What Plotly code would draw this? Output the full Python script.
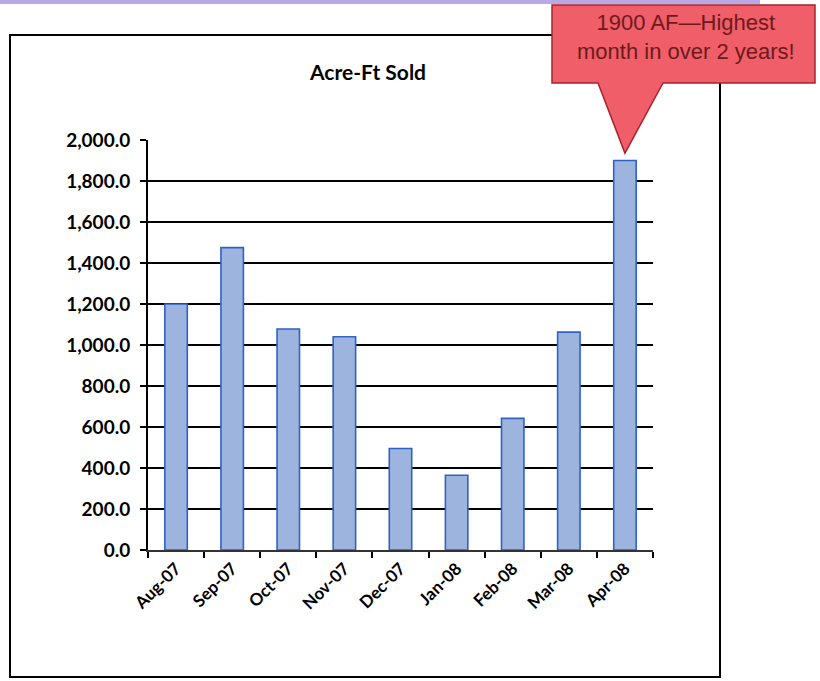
import plotly.graph_objects as go

# Monthly acre-feet sold
months = ["Aug-07", "Sep-07", "Oct-07", "Nov-07", "Dec-07",
          "Jan-08", "Feb-08", "Mar-08", "Apr-08"]
acre_ft = [1200, 1475, 1078, 1040, 495, 365, 642, 1063, 1900]

y_ticks = [0, 200, 400, 600, 800, 1000, 1200, 1400, 1600, 1800, 2000]

W, H = 820, 681
L, R, T, B = 148, 653, 140, 550   # plot area in pixels
Y_MAX = 2000


def px(x):
    return (x - L) / (R - L)


def py(y):
    return (B - y) / (B - T)


fig = go.Figure()
fig.add_trace(go.Bar(
    x=months, y=acre_ft,
    marker=dict(color="#9DB5DE", line=dict(color="#2F62C4", width=1.6)),
    width=0.4,
))

shapes = []
# page rule across the top
shapes.append(dict(type="line", xref="paper", yref="paper",
                   x0=px(0), x1=px(760), y0=py(2), y1=py(2),
                   line=dict(color="#B9A8E6", width=4), layer="above"))
# chart frame
shapes.append(dict(type="rect", xref="paper", yref="paper",
                   x0=px(10), x1=px(720), y0=py(677), y1=py(35),
                   line=dict(color="black", width=2), layer="below"))

# callout pointing at the Apr-08 bar
idx = months.index("Apr-08")
tip_x = (idx + 0.5) / len(months)
tip_y = acre_ft[idx] / Y_MAX + 0.018
bx0, bx1, by0, by1 = px(552), px(815), py(83), py(5)
bl, br = px(598), px(663)
path = (f"M {bx0},{by1} L {bx1},{by1} L {bx1},{by0} L {br},{by0} "
        f"L {tip_x},{tip_y} L {bl},{by0} L {bx0},{by0} Z")
shapes.append(dict(type="path", xref="paper", yref="paper", path=path,
                   fillcolor="#EF5E69", line=dict(color="#A8232C", width=1.5),
                   layer="above"))

annotations = [
    dict(text="<b>Acre-Ft Sold</b>", xref="paper", yref="paper",
         x=px(367), y=py(71), xanchor="center", yanchor="middle",
         showarrow=False,
         font=dict(family="Lato", size=21, color="black")),
    dict(text="1900 AF\u2014Highest<br>month in over 2 years!",
         xref="paper", yref="paper", x=px(686), y=py(37),
         xanchor="center", yanchor="middle", showarrow=False,
         font=dict(family="Liberation Sans", size=22, color="#6E1A1A"),
         align="center"),
]

fig.update_layout(
    width=W, height=H,
    margin=dict(l=L, r=W - R, t=T, b=H - B, autoexpand=False),
    paper_bgcolor="white", plot_bgcolor="white",
    showlegend=False, bargap=0.6,
    shapes=shapes, annotations=annotations,
)
fig.update_xaxes(
    type="category", showgrid=False,
    showline=True, linecolor="#333333", linewidth=2,
    ticks="outside", tickson="boundaries", ticklen=6, tickwidth=2, tickcolor="black",
    tickangle=-45, tickfont=dict(family="Lato", size=17, color="black", weight="bold"),
)
fig.update_yaxes(
    range=[0, Y_MAX], tickvals=y_ticks, tickformat=",.1f",
    showgrid=True, gridcolor="black", gridwidth=2,
    showline=True, linecolor="black", linewidth=2, zeroline=False,
    ticks="outside", ticklen=6, tickwidth=2, tickcolor="black",
    ticklabelstandoff=6,
    tickfont=dict(family="Lato", size=19, color="black", weight="bold"),
)

fig.write_html("out.html")
